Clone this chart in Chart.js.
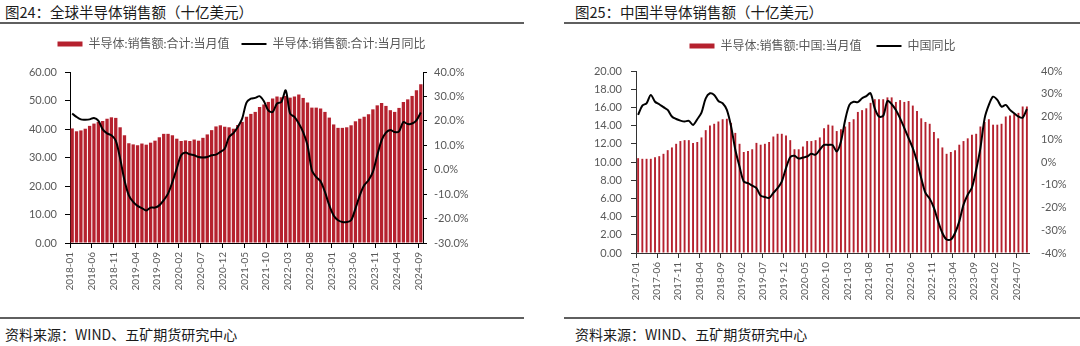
<!DOCTYPE html>
<html><head><meta charset="utf-8">
<script src="https://cdn.jsdelivr.net/npm/chart.js@4/dist/chart.umd.min.js"></script>
<style>
html,body{margin:0;padding:0;background:#fff;width:1080px;height:346px;overflow:hidden;position:relative;font-family:"Noto Sans CJK SC",sans-serif;}
.title{position:absolute;top:2px;font-size:14.5px;line-height:20px;color:#1a1a1a;white-space:nowrap;}
.rule{position:absolute;height:2px;background:#5f5f5f;}
.src{position:absolute;top:324px;font-size:14px;line-height:20px;color:#1a1a1a;white-space:nowrap;}
canvas{position:absolute;}
</style></head>
<body>
<div class="title" style="left:5px">图24：全球半导体销售额（十亿美元）</div>
<div class="rule" style="left:0;width:524px;top:22px"></div>
<div class="title" style="left:575px">图25：中国半导体销售额（十亿美元）</div>
<div class="rule" style="left:564px;width:516px;top:22px"></div>
<div class="rule" style="left:0;width:524px;top:317px"></div>
<div class="rule" style="left:564px;width:516px;top:317px"></div>
<div class="src" style="left:5px">资料来源：WIND、五矿期货研究中心</div>
<div class="src" style="left:575px">资料来源：WIND、五矿期货研究中心</div>
<canvas id="c1" width="483" height="267" style="left:0;top:26px;width:483px;height:267px"></canvas>
<canvas id="c2" width="513" height="278" style="left:566px;top:25px;width:513px;height:278px"></canvas>
<script>
// ---------- data ----------
const globalMonths = [
 '2018-01','2018-02','2018-03','2018-04','2018-05','2018-06','2018-07','2018-08','2018-09','2018-10','2018-11','2018-12',
 '2019-01','2019-02','2019-03','2019-04','2019-05','2019-06','2019-07','2019-08','2019-09','2019-10','2019-11','2019-12',
 '2020-01','2020-02','2020-03','2020-04','2020-05','2020-06','2020-07','2020-08','2020-09','2020-10','2020-11','2020-12',
 '2021-01','2021-02','2021-03','2021-04','2021-05','2021-06','2021-07','2021-08','2021-09','2021-10','2021-11','2021-12',
 '2022-01','2022-02','2022-03','2022-04','2022-05','2022-06','2022-07','2022-08','2022-09','2022-10','2022-11','2022-12',
 '2023-01','2023-02','2023-03','2023-04','2023-05','2023-06','2023-07','2023-08','2023-09','2023-10','2023-11','2023-12',
 '2024-01','2024-02','2024-03','2024-04','2024-05','2024-06','2024-07','2024-08','2024-09'];
const globalTicks = ['2018-01','2018-06','2018-11','2019-04','2019-09','2020-02','2020-07','2020-12','2021-05','2021-10','2022-03','2022-08','2023-01','2023-06','2023-11','2024-04','2024-09'];
const globalSales = [
 40.2,39.2,39.5,40.1,41.1,41.9,42.5,42.8,43.6,44.1,43.9,40.6,
 37.8,35.0,34.6,34.3,34.9,34.5,35.2,35.9,37.1,38.3,38.3,37.8,
 36.6,35.8,36.0,35.8,36.3,35.9,36.9,38.1,39.6,40.9,41.3,40.8,
 40.6,40.1,41.4,42.5,44.3,45.3,46.0,47.7,48.6,49.5,50.7,51.4,
 51.1,51.6,51.0,51.4,52.1,50.9,49.3,47.5,47.5,47.2,46.0,44.0,
 41.6,40.4,40.4,40.6,41.3,42.7,43.6,44.3,45.2,46.9,48.3,49.1,
 48.1,46.6,46.0,47.4,49.5,50.4,51.6,53.6,55.7];
const globalYoY = [
 23.0,21.6,20.6,20.5,20.6,21.2,20.1,16.5,14.9,14.1,11.9,4.6,
 -4.3,-10.5,-13.2,-14.8,-15.7,-16.7,-15.5,-15.5,-14.6,-12.5,-9.8,-5.0,
 0.5,5.9,7.0,6.3,5.9,5.2,5.0,5.2,5.9,6.2,7.3,8.6,
 13.4,15.0,17.5,20.9,27.5,29.1,29.4,30.1,28.0,24.3,23.6,27.1,
 27.7,32.5,23.0,21.6,18.9,15.4,10.0,-0.2,-3.0,-4.7,-9.1,-14.6,
 -18.7,-20.7,-21.4,-21.4,-20.7,-15.9,-10.5,-6.4,-4.3,-0.9,5.9,12.0,
 15.2,16.3,15.4,15.7,19.5,18.7,18.9,20.2,23.4];

const chinaMonths = [
 '2017-01','2017-02','2017-03','2017-04','2017-05','2017-06','2017-07','2017-08','2017-09','2017-10','2017-11','2017-12',
 '2018-01','2018-02','2018-03','2018-04','2018-05','2018-06','2018-07','2018-08','2018-09','2018-10','2018-11','2018-12',
 '2019-01','2019-02','2019-03','2019-04','2019-05','2019-06','2019-07','2019-08','2019-09','2019-10','2019-11','2019-12',
 '2020-01','2020-02','2020-03','2020-04','2020-05','2020-06','2020-07','2020-08','2020-09','2020-10','2020-11','2020-12',
 '2021-01','2021-02','2021-03','2021-04','2021-05','2021-06','2021-07','2021-08','2021-09','2021-10','2021-11','2021-12',
 '2022-01','2022-02','2022-03','2022-04','2022-05','2022-06','2022-07','2022-08','2022-09','2022-10','2022-11','2022-12',
 '2023-01','2023-02','2023-03','2023-04','2023-05','2023-06','2023-07','2023-08','2023-09','2023-10','2023-11','2023-12',
 '2024-01','2024-02','2024-03','2024-04','2024-05','2024-06','2024-07','2024-08','2024-09'];
const chinaTicks = ['2017-01','2017-06','2017-11','2018-04','2018-09','2019-02','2019-07','2019-12','2020-05','2020-10','2021-03','2021-08','2022-01','2022-06','2022-11','2023-04','2023-09','2024-02','2024-07'];
const chinaSales = [
 10.42,10.35,10.35,10.35,10.53,10.64,10.9,11.3,11.6,12.0,12.3,12.4,
 12.4,12.1,12.2,12.7,13.5,14.0,14.2,14.45,14.7,14.75,14.3,13.2,
 12.0,11.1,11.2,11.4,12.1,11.9,12.0,12.2,12.8,13.1,13.1,12.9,
 12.4,11.4,11.4,11.7,12.3,12.3,12.4,12.7,13.7,14.1,14.0,13.4,
 13.6,13.9,14.4,14.7,15.5,15.7,15.9,16.5,16.9,16.9,16.9,17.1,
 17.1,16.6,16.8,16.6,16.7,16.2,15.6,14.8,14.4,14.2,13.3,12.6,
 11.6,10.9,11.1,11.3,11.9,12.3,12.6,13.0,13.1,13.9,14.4,14.7,
 14.1,14.1,14.2,15.0,15.1,15.3,15.4,16.1,16.1];
const chinaYoY = [
 20.7,24.8,25.8,29.5,26.5,25.4,24.1,22.9,20.0,18.9,18.2,17.8,
 18.1,16.3,18.8,21.7,28.0,30.2,29.5,26.8,25.8,22.9,15.6,5.4,
 -2.0,-8.6,-9.3,-10.4,-11.5,-14.8,-15.4,-15.8,-13.6,-11.5,-8.6,-2.7,
 2.1,2.7,1.5,2.0,2.4,3.6,3.2,5.4,7.5,7.5,7.5,4.6,
 9.0,18.5,25.1,26.5,26.3,28.0,29.0,30.2,23.6,20.0,20.3,26.8,
 25.4,22.9,19.2,14.9,10.5,6.1,0.2,-7.1,-13.6,-16.1,-20.2,-26.1,
 -31.2,-34.1,-34.1,-31.2,-26.1,-18.8,-14.4,-11.2,-3.4,6.1,19.2,25.1,
 28.7,27.3,24.3,25.1,22.9,21.4,20.0,19.5,23.3];

// ---------- chart ----------
Chart.defaults.font.family = 'Lato, "Noto Sans CJK SC", sans-serif';
Chart.defaults.color = '#595959';
const BAR_RED = '#B5212E';

const legendGap = {
  id: 'legendGap',
  beforeInit(chart, args, opts) {
    const orig = chart.legend.fit;
    chart.legend.fit = function () { orig.call(this); this.height += (opts.extra || 0); };
  }
};

function buildChart(el, o) {
  const n = o.months.length;
  return new Chart(el, {
    type: 'bar',
    plugins: [legendGap],
    data: {
      datasets: [
        { type: 'bar', label: o.barLabel, data: o.bars.map((v, i) => ({x: i + 0.5, y: v})),
          backgroundColor: BAR_RED, borderWidth: 0, barPercentage: o.barPct, categoryPercentage: 1,
          yAxisID: 'y', order: 2 },
        { type: 'line', label: o.lineLabel, data: o.yoy.map((v, i) => ({x: i + 0.5, y: v})),
          borderColor: '#000', backgroundColor: '#000', borderWidth: 2, pointRadius: 0,
          tension: 0.3, yAxisID: 'y1', order: 1 }
      ]
    },
    options: {
      responsive: false, animation: false, devicePixelRatio: 1,
      layout: { padding: 0 },
      plugins: {
        tooltip: { enabled: false },
        legendGap: { extra: o.legendExtra },
        legend: {
          display: true, position: 'top', align: 'center',
          labels: {
            usePointStyle: true, pointStyleWidth: 25, boxHeight: 5, padding: o.legendPad,
            color: '#595959', font: { size: 12 },
            generateLabels(chart) {
              const items = Chart.defaults.plugins.legend.labels.generateLabels(chart)
                .sort((a, b) => a.datasetIndex - b.datasetIndex);
              items.forEach(it => {
                const ds = chart.data.datasets[it.datasetIndex];
                if (ds.type === 'line') { it.pointStyle = 'line'; it.lineWidth = 2; it.strokeStyle = '#000'; }
                else { it.pointStyle = 'rect'; it.lineWidth = 0; it.fillStyle = BAR_RED; }
              });
              return items;
            }
          }
        }
      },
      scales: {
        x: {
          type: 'linear', min: 0, max: n, offset: false,
          grid: { display: true, drawOnChartArea: false, drawTicks: true, tickLength: 5, color: o.axisColor, offset: false },
          border: { display: true, color: o.axisColor, width: 1 },
          ticks: { autoSkip: false, minRotation: 90, maxRotation: 90, padding: 4, font: { size: 10 }, color: '#595959',
                   callback: (v) => (o.months[v] !== undefined ? o.months[v] : '') },
          afterBuildTicks: (s) => { s.ticks = o.ticks.map(t => ({ value: o.months.indexOf(t) })); },
          afterFit: (s) => { s.height = 50; }
        },
        y: {
          position: 'left', min: o.yMin, max: o.yMax,
          grid: { display: true, drawOnChartArea: false, drawTicks: true, tickLength: 5, color: o.axisColor },
          border: { display: true, color: o.axisColor, width: 1 },
          ticks: { stepSize: o.yStep, padding: o.yPad, font: { size: 11 }, color: '#595959',
                   callback: (v) => v.toFixed(2) },
          afterFit: (s) => { s.width = 70; }
        },
        y1: {
          position: 'right', min: o.y1Min, max: o.y1Max,
          grid: { display: o.y1Axis, drawOnChartArea: false, drawTicks: o.y1Axis, tickLength: 4, color: o.axisColor },
          border: { display: o.y1Axis, color: o.axisColor, width: 1 },
          ticks: { stepSize: 10, padding: o.y1Pad, font: { size: 11 }, color: '#595959',
                   callback: (v) => (o.y1Dec ? v.toFixed(1) : v.toFixed(0)) + '%' },
          afterFit: (s) => { s.width = o.y1Width; }
        }
      }
    }
  });
}

buildChart(document.getElementById('c1'), {
  months: globalMonths, ticks: globalTicks, bars: globalSales, yoy: globalYoY,
  barLabel: '半导体:销售额:合计:当月值', lineLabel: '半导体:销售额:合计:当月同比',
  barPct: 0.76, legendPad: 12, legendExtra: 12, axisColor: '#000',
  yMin: 0, yMax: 60, yStep: 10, yPad: 8,
  y1Min: -30, y1Max: 40, y1Pad: 7, y1Dec: true, y1Axis: true, y1Width: 60
});

buildChart(document.getElementById('c2'), {
  months: chinaMonths, ticks: chinaTicks, bars: chinaSales, yoy: chinaYoY,
  barLabel: '半导体:销售额:中国:当月值', lineLabel: '中国同比',
  barPct: 0.45, legendPad: 15, legendExtra: 9, axisColor: '#333',
  yMin: 0, yMax: 20, yStep: 2, yPad: 9,
  y1Min: -40, y1Max: 40, y1Pad: 12, y1Dec: false, y1Axis: false, y1Width: 50
});
</script>
</body></html>
